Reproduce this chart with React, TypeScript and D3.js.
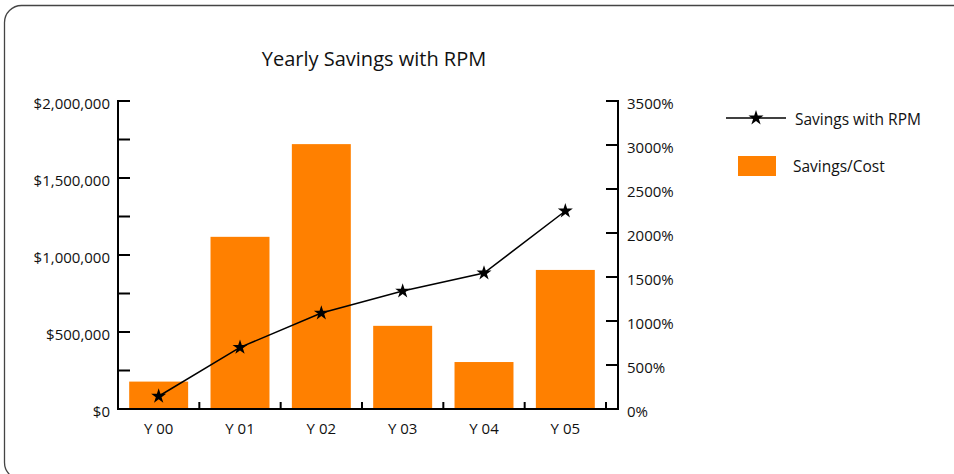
import React from "react";
import * as d3 from "d3";

const years = ["Y 00", "Y 01", "Y 02", "Y 03", "Y 04", "Y 05"];
const savingsCost = [178000, 1118000, 1720000, 540000, 305000, 903000];
const savingsPct = [145, 700, 1090, 1340, 1545, 2250];
const leftTicks = [0, 500000, 1000000, 1500000, 2000000];
const rightTicks = [0, 500, 1000, 1500, 2000, 2500, 3000, 3500];

const W = 954;
const H = 474;
const FONT = "'Open Sans', 'Noto Sans', sans-serif";

const App = () => {
  const x = d3.scaleBand().domain(years).range([118, 606]).paddingInner(0.275).paddingOuter(0.1375);
  const yL = d3.scaleLinear().domain([0, 2000000]).range([409, 101]);
  const yR = d3.scaleLinear().domain([0, 3500]).range([409, 101]);

  const money = (v) => "$" + d3.format(",")(v);
  const minor = d3.range(0, 2000001, 250000);

  const line = d3
    .line()
    .x((d, i) => x(years[i]) + x.bandwidth() / 2)
    .y((d) => yR(d));

  const star = d3.symbol().type(d3.symbolStar).size(70)();

  const boundaries = years.map((_, i) => 118 + x.step() * (i + 1));

  return (
    <svg width={W} height={H} style={{ position: "absolute", left: 0, top: 0 }} fontFamily={FONT}>
      <rect x={4.5} y={5.5} width={980} height={474} rx={17} fill="white" stroke="#444" strokeWidth={1.3} />

      <text x={374} y={58} textAnchor="middle" dominantBaseline="central" fontSize={20} fill="#111">
        Yearly Savings with RPM
      </text>

      {savingsCost.map((v, i) => (
        <rect key={i} x={x(years[i])} y={yL(v)} width={x.bandwidth()} height={yL(0) - yL(v)} fill="#ff8000" />
      ))}

      {/* left axis */}
      <line x1={118} x2={118} y1={100} y2={410} stroke="#000" strokeWidth={2} />
      {minor.map((t) => (
        <line key={t} x1={118} x2={130} y1={yL(t)} y2={yL(t)} stroke="#000" strokeWidth={2} />
      ))}
      {leftTicks.map((t) => (
        <text key={t} x={110} y={yL(t) + 2} textAnchor="end" dominantBaseline="central" fontSize={15} fill="#111">
          {money(t)}
        </text>
      ))}

      {/* bottom axis */}
      <line x1={117} x2={607} y1={409} y2={409} stroke="#000" strokeWidth={2} />
      {boundaries.map((b, i) => (
        <line key={i} x1={b} x2={b} y1={409} y2={402} stroke="#000" strokeWidth={2} />
      ))}
      {years.map((yname) => (
        <text key={yname} x={x(yname) + x.bandwidth() / 2} y={428} textAnchor="middle" dominantBaseline="central" fontSize={15} fill="#111">
          {yname}
        </text>
      ))}

      {/* right axis */}
      <line x1={618} x2={618} y1={100} y2={410} stroke="#000" strokeWidth={2} />
      {rightTicks.map((t) => (
        <line key={t} x1={606} x2={618} y1={yR(t)} y2={yR(t)} stroke="#000" strokeWidth={2} />
      ))}
      {rightTicks.map((t) => (
        <text key={t} x={627} y={yR(t) + 2} textAnchor="start" dominantBaseline="central" fontSize={15} fill="#111">
          {t + "%"}
        </text>
      ))}

      <path d={line(savingsPct)} fill="none" stroke="#000" strokeWidth={1.5} />
      {savingsPct.map((v, i) => (
        <path key={i} d={star} transform={`translate(${x(years[i]) + x.bandwidth() / 2},${yR(v)})`} fill="#000" />
      ))}

      {/* legend */}
      <line x1={726} x2={786} y1={118} y2={118} stroke="#000" strokeWidth={1.5} />
      <path d={star} transform="translate(756,118)" fill="#000" />
      <text x={795} y={119} dominantBaseline="central" fontSize={15.5} fill="#111">
        Savings with RPM
      </text>
      <rect x={738} y={156} width={38} height={20} fill="#ff8000" />
      <text x={793} y={166} dominantBaseline="central" fontSize={15.5} fill="#111">
        Savings/Cost
      </text>
    </svg>
  );
};

export default App;
